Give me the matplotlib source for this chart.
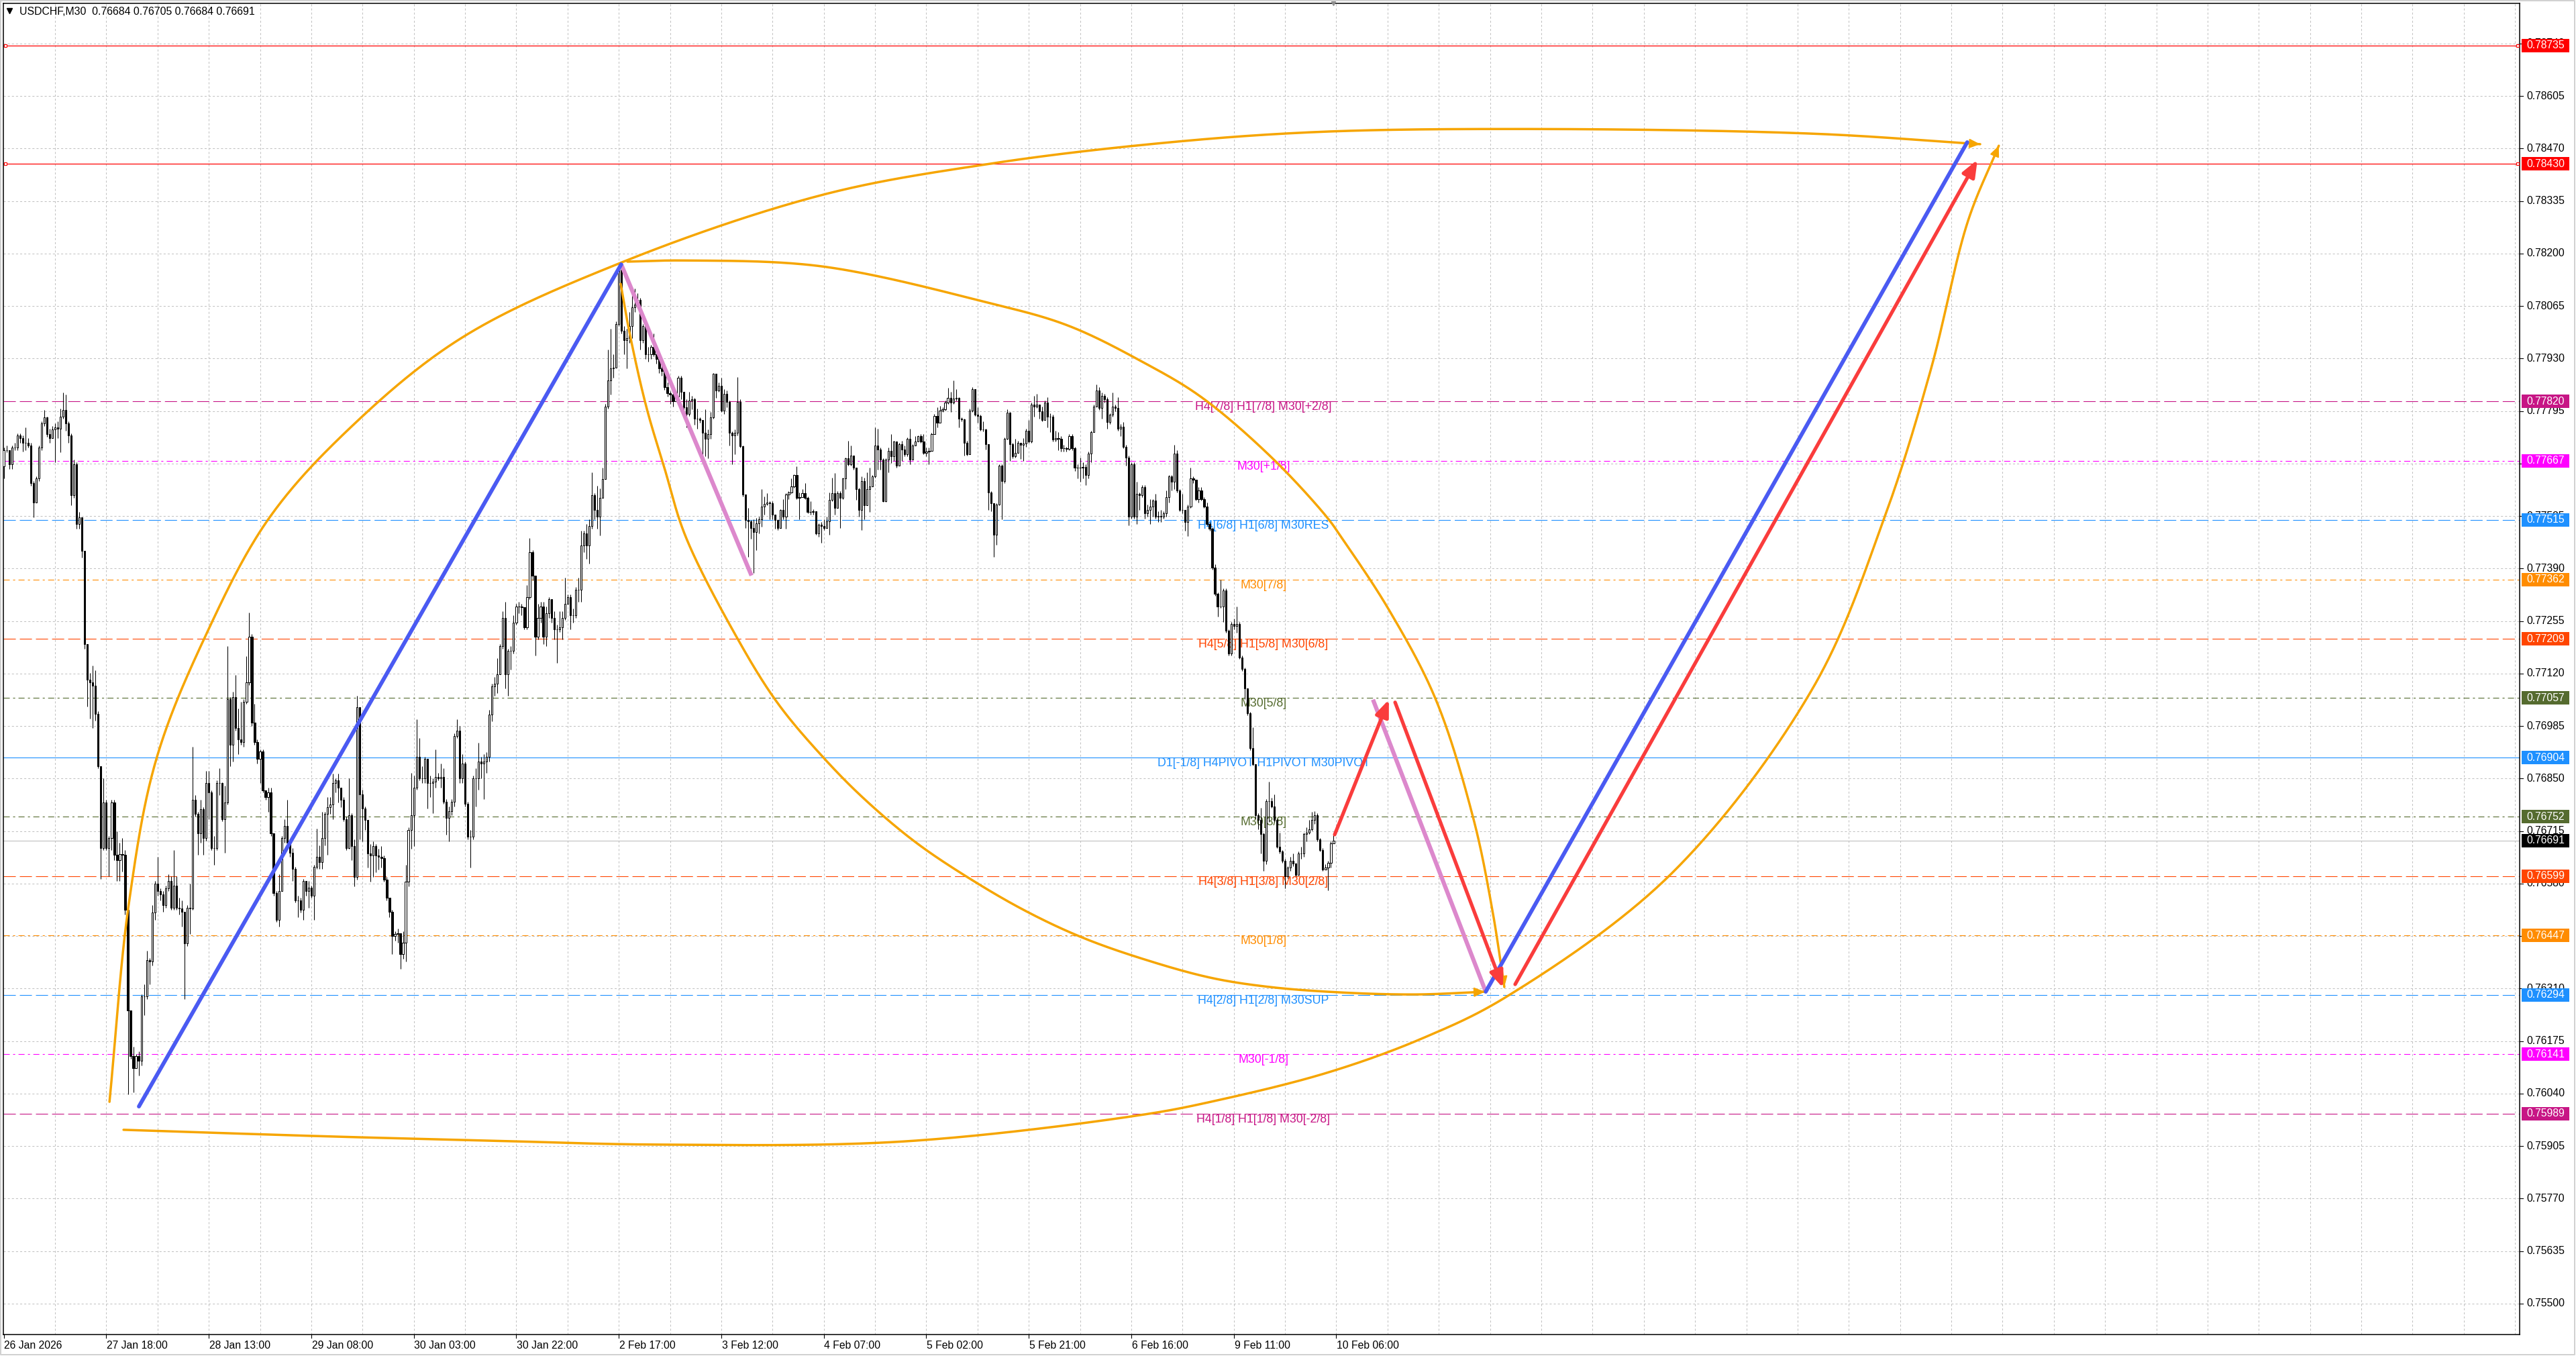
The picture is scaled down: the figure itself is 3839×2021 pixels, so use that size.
import numpy as np
import matplotlib
matplotlib.use("Agg")
import matplotlib.pyplot as plt
from matplotlib.transforms import blended_transform_factory as blend
from matplotlib.patches import Rectangle
from matplotlib.lines import Line2D

plt.rcParams['lines.scale_dashes'] = False
plt.rcParams['font.family'] = ['Liberation Sans', 'DejaVu Sans']

# ------------------------------------------------------------------ data
header_text = "USDCHF,M30  0.76684 0.76705 0.76684 0.76691"

# M30 candles, prices in points (1e-5). open of each bar = previous close
first_open = 77652
close_a = [77695, 77695, 77658, 77701, 77701, 77732, 77726, 77713, 77713, 77707,
           77609, 77559, 77621, 77701, 77763, 77778, 77736, 77726, 77748, 77753,
           77750, 77781, 77797, 77763, 77732, 77578, 77658, 77504, 77522, 77436,
           77196, 77104, 77097, 77088, 77017, 76882, 76672, 76789, 76672, 76697,
           76789, 76654, 76641, 76656, 76654, 76512, 76253, 76136, 76105, 76136,
           76124, 76290, 76290, 76383, 76380, 76506, 76580, 76561, 76553, 76524,
           76568, 76586, 76518, 76574, 76518, 76516, 76508, 76426, 76518, 76516,
           76795, 76759, 76709, 76771, 76697, 76839, 76814, 76672, 76672, 76839,
           76839, 76746, 76789, 77054, 76937, 77060, 76980, 76950, 76943, 77048,
           77097, 77214, 76993, 76943, 76900, 76919, 76820, 76802, 76814, 76709,
           76555, 76487, 76561, 76697, 76728, 76685, 76660, 76617, 76537, 76537,
           76512, 76586, 76561, 76570, 76549, 76623, 76648, 76635, 76697, 76759,
           76777, 76783, 76839, 76845, 76826, 76795, 76746, 76672]
high_a = [77701, 77707, 77677, 77707, 77713, 77738, 77738, 77732, 77753, 77726,
          77713, 77615, 77627, 77707, 77769, 77797, 77781, 77750, 77757, 77763,
          77769, 77802, 77843, 77837, 77769, 77738, 77670, 77664, 77535, 77498,
          77436, 77196, 77122, 77141, 77128, 77023, 76882, 76851, 76795, 76703,
          76795, 76795, 76715, 76685, 76697, 76666, 76512, 76247, 76161, 76142,
          76149, 76296, 76321, 76407, 76389, 76524, 76586, 76648, 76568, 76561,
          76574, 76604, 76598, 76666, 76598, 76543, 76537, 76506, 76524, 76580,
          76931, 76808, 76765, 76795, 76777, 76869, 76869, 76820, 76703, 76845,
          76876, 76841, 76832, 77190, 77060, 77073, 77116, 77030, 77048, 77054,
          77165, 77276, 77221, 77042, 76950, 76925, 76925, 76820, 76826, 76826,
          76709, 76561, 76604, 76703, 76746, 76795, 76678, 76672, 76623, 76549,
          76543, 76592, 76580, 76586, 76574, 76629, 76722, 76678, 76765, 76765,
          76802, 76802, 76863, 76851, 76863, 76826, 76802, 76752]
low_a = [77621, 77689, 77646, 77646, 77695, 77695, 77713, 77691, 77695, 77701,
         77603, 77522, 77559, 77615, 77695, 77757, 77728, 77713, 77732, 77664,
         77726, 77689, 77775, 77744, 77713, 77553, 77572, 77492, 77492, 77418,
         77184, 77036, 77005, 76980, 76999, 76876, 76592, 76666, 76666, 76598,
         76666, 76641, 76586, 76586, 76611, 76500, 76038, 76130, 76044, 76130,
         76087, 76112, 76241, 76284, 76321, 76370, 76487, 76549, 76537, 76508,
         76518, 76561, 76512, 76512, 76512, 76500, 76469, 76284, 76420, 76450,
         76512, 76752, 76654, 76685, 76654, 76691, 76746, 76666, 76629, 76666,
         76808, 76740, 76660, 76783, 76882, 76894, 76974, 76913, 76937, 76931,
         77042, 77091, 76986, 76937, 76888, 76839, 76814, 76795, 76765, 76703,
         76549, 76481, 76469, 76568, 76685, 76678, 76648, 76586, 76531, 76494,
         76506, 76487, 76549, 76518, 76543, 76487, 76617, 76617, 76617, 76678,
         76654, 76759, 76746, 76814, 76789, 76777, 76740, 76666]

close_b = [76755, 76676, 76597, 77033, 76809, 76773, 76743, 76658, 76652, 76676,
           76652, 76648, 76646, 76591, 76543, 76507, 76446, 76450, 76452, 76398,
           76428, 76585, 76718, 76755, 76827, 76906, 76851, 76851, 76900, 76839,
           76839, 76842, 76854, 76851, 76854, 76791, 76749, 76767, 76791, 76960,
           76973, 76851, 76888, 76785, 76700, 76700, 76851, 76851, 76894, 76888,
           76894, 76906, 77015, 77087, 77094, 77118, 77190, 77263, 77118, 77178,
           77178, 77251, 77293, 77293, 77290, 77239, 77317, 77432, 77372, 77215,
           77263, 77293, 77215, 77275, 77311, 77263, 77233, 77233, 77239, 77263,
           77299, 77317, 77269, 77269, 77336, 77336, 77450, 77481, 77450, 77499,
           77578, 77541, 77523, 77571, 77620, 77807, 77874, 77904, 77907, 78019,
           78158, 78001, 77977, 77983, 78013, 78062, 78068, 78080, 77977, 78013,
           77941, 77941, 77959, 77941, 77928, 77904, 77898, 77856, 77841, 77838,
           77820, 77832, 77880, 77844]
high_b = [76851, 76761, 76694, 77063, 77033, 76821, 76779, 76743, 76682, 76688,
          76682, 76670, 76676, 76652, 76597, 76543, 76513, 76458, 76464, 76452,
          76458, 76628, 76724, 76864, 76858, 77003, 76954, 76882, 76906, 76870,
          76858, 76851, 76924, 76864, 76888, 76876, 76797, 76779, 76797, 76966,
          77003, 76985, 76912, 76894, 76791, 76718, 76858, 76876, 76942, 76906,
          76912, 76918, 77027, 77094, 77112, 77160, 77196, 77281, 77305, 77184,
          77190, 77269, 77299, 77305, 77299, 77287, 77348, 77469, 77438, 77372,
          77299, 77305, 77305, 77293, 77317, 77311, 77281, 77245, 77281, 77281,
          77366, 77323, 77323, 77287, 77342, 77366, 77487, 77487, 77505, 77517,
          77638, 77584, 77602, 77596, 77650, 77814, 77953, 78007, 77941, 78025,
          78177, 78170, 78013, 78007, 78049, 78098, 78110, 78098, 78086, 78019,
          78013, 77959, 77965, 77995, 77947, 77935, 77916, 77898, 77868, 77846,
          77844, 77844, 77886, 77886]
low_b = [76670, 76640, 76573, 76591, 76694, 76688, 76718, 76622, 76585, 76597,
         76609, 76616, 76622, 76585, 76537, 76494, 76398, 76434, 76428, 76361,
         76386, 76380, 76573, 76670, 76676, 76821, 76845, 76839, 76839, 76773,
         76803, 76761, 76827, 76845, 76827, 76785, 76706, 76688, 76755, 76779,
         76954, 76839, 76839, 76779, 76694, 76622, 76694, 76779, 76821, 76851,
         76797, 76864, 76894, 76997, 77063, 77069, 77118, 77184, 77081, 77063,
         77130, 77172, 77245, 77275, 77269, 77233, 77233, 77311, 77360, 77166,
         77208, 77251, 77196, 77190, 77263, 77251, 77208, 77148, 77227, 77208,
         77257, 77299, 77233, 77251, 77263, 77305, 77305, 77432, 77414, 77402,
         77493, 77517, 77493, 77475, 77578, 77620, 77801, 77838, 77880, 77953,
         78013, 77995, 77941, 77904, 77971, 77983, 78049, 78062, 77953, 77971,
         77928, 77922, 77928, 77935, 77916, 77892, 77886, 77850, 77832, 77814,
         77807, 77820, 77832, 77826]

close_c = [77805, 77788, 77822, 77825, 77776, 77776, 77772, 77739, 77724, 77735,
           77779, 77890, 77848, 77860, 77796, 77839, 77819, 77739, 77733, 77739,
           77819, 77704, 77581, 77515, 77511, 77494, 77483, 77506, 77517, 77549,
           77557, 77559, 77558, 77529, 77515, 77494, 77540, 77523, 77581, 77586,
           77601, 77630, 77572, 77574, 77584, 77572, 77535, 77536, 77538, 77480,
           77503, 77500, 77494, 77512, 77566, 77584, 77546, 77584, 77572, 77621,
           77673, 77658, 77681, 77650, 77595, 77540, 77615, 77552, 77595, 77601,
           77627, 77707, 77696, 77670, 77563, 77670, 77693, 77678, 77716, 77655,
           77710, 77696, 77684, 77724, 77670, 77707, 77716, 77730, 77716, 77687,
           77690, 77693, 77736, 77782, 77765, 77796, 77799, 77816, 77828, 77816,
           77827, 77828, 77776, 77773, 77713, 77684, 77796, 77851, 77785, 77782,
           77747, 77747, 77710, 77586, 77558, 77477, 77555, 77655, 77615, 77724,
           77791, 77710, 77678, 77687, 77713]
high_c = [77845, 77825, 77845, 77834, 77828, 77802, 77779, 77770, 77799, 77747,
          77793, 77892, 77891, 77868, 77880, 77851, 77848, 77822, 77742, 77747,
          77883, 77825, 77707, 77581, 77546, 77515, 77517, 77520, 77523, 77595,
          77575, 77584, 77563, 77563, 77526, 77517, 77543, 77569, 77584, 77589,
          77621, 77632, 77653, 77586, 77595, 77609, 77575, 77563, 77543, 77538,
          77506, 77509, 77517, 77523, 77586, 77624, 77635, 77589, 77589, 77624,
          77676, 77719, 77707, 77678, 77647, 77598, 77627, 77624, 77638, 77650,
          77630, 77753, 77750, 77701, 77673, 77673, 77701, 77736, 77719, 77713,
          77713, 77719, 77707, 77727, 77750, 77710, 77730, 77733, 77736, 77736,
          77701, 77701, 77739, 77788, 77805, 77808, 77805, 77822, 77854, 77845,
          77874, 77851, 77831, 77779, 77776, 77719, 77802, 77857, 77851, 77805,
          77785, 77768, 77750, 77710, 77589, 77552, 77558, 77658, 77658, 77727,
          77799, 77793, 77713, 77724, 77719]
low_c = [77785, 77753, 77782, 77799, 77759, 77750, 77765, 77681, 77678, 77673,
         77724, 77776, 77828, 77845, 77793, 77788, 77805, 77707, 77658, 77684,
         77733, 77701, 77575, 77494, 77420, 77466, 77379, 77437, 77480, 77497,
         77529, 77552, 77517, 77517, 77492, 77489, 77515, 77517, 77492, 77569,
         77584, 77598, 77569, 77517, 77575, 77569, 77532, 77529, 77529, 77477,
         77471, 77457, 77489, 77500, 77477, 77563, 77529, 77546, 77494, 77569,
         77595, 77655, 77655, 77644, 77566, 77523, 77489, 77517, 77552, 77535,
         77615, 77624, 77644, 77644, 77561, 77561, 77638, 77661, 77667, 77650,
         77655, 77667, 77678, 77678, 77658, 77681, 77713, 77719, 77713, 77684,
         77678, 77658, 77696, 77736, 77753, 77768, 77793, 77796, 77814, 77793,
         77814, 77822, 77753, 77768, 77681, 77681, 77683, 77793, 77782, 77765,
         77745, 77742, 77696, 77540, 77538, 77420, 77451, 77552, 77517, 77609,
         77722, 77667, 77673, 77676, 77687]

close_d = [77708, 77711, 77744, 77717, 77812, 77807, 77812, 77794, 77771, 77816,
           77780, 77780, 77722, 77726, 77723, 77699, 77699, 77698, 77731, 77699,
           77649, 77649, 77649, 77651, 77631, 77685, 77740, 77807, 77848, 77803,
           77834, 77825, 77767, 77785, 77807, 77803, 77749, 77755, 77703, 77676,
           77523, 77658, 77523, 77582, 77579, 77600, 77532, 77541, 77550, 77564,
           77523, 77525, 77523, 77532, 77573, 77627, 77613, 77685, 77591, 77541,
           77541, 77510, 77550, 77622, 77618, 77568, 77591, 77568, 77550, 77505,
           77492, 77392, 77325, 77293, 77293, 77334, 77230, 77171, 77248, 77243,
           77248, 77162, 77131, 77081, 77018, 76928, 76887, 76756, 76743, 76707,
           76639, 76792, 76792, 76779, 76743, 76675, 76662, 76639, 76598, 76621,
           76639, 76632, 76603, 76657, 76657, 76707, 76711, 76720, 76743, 76756,
           76693, 76666, 76616, 76621, 76634, 76684, 76691]
high_d = [77714, 77726, 77749, 77771, 77816, 77834, 77839, 77812, 77807, 77821,
          77830, 77789, 77785, 77744, 77740, 77731, 77708, 77703, 77735, 77735,
          77703, 77658, 77676, 77663, 77658, 77690, 77744, 77812, 77864, 77857,
          77843, 77839, 77830, 77789, 77843, 77812, 77830, 77762, 77767, 77708,
          77681, 77663, 77663, 77613, 77586, 77604, 77604, 77555, 77568, 77568,
          77582, 77537, 77541, 77537, 77591, 77631, 77631, 77708, 77694, 77595,
          77582, 77541, 77555, 77649, 77627, 77613, 77600, 77600, 77573, 77559,
          77510, 77496, 77401, 77329, 77361, 77338, 77338, 77234, 77252, 77261,
          77293, 77252, 77167, 77135, 77081, 77022, 76982, 76887, 76761, 76774,
          76711, 76797, 76842, 76801, 76810, 76747, 76711, 76666, 76644, 76625,
          76648, 76657, 76634, 76662, 76675, 76711, 76725, 76743, 76765, 76767,
          76761, 76698, 76671, 76630, 76639, 76689, 76705]
low_d = [77672, 77667, 77703, 77713, 77714, 77780, 77803, 77776, 77768, 77794,
         77753, 77740, 77717, 77717, 77694, 77690, 77690, 77690, 77694, 77694,
         77640, 77622, 77613, 77622, 77604, 77622, 77663, 77740, 77807, 77798,
         77776, 77816, 77749, 77762, 77780, 77794, 77744, 77731, 77699, 77654,
         77501, 77519, 77519, 77505, 77541, 77573, 77519, 77523, 77505, 77523,
         77519, 77510, 77510, 77519, 77523, 77559, 77591, 77595, 77586, 77537,
         77532, 77487, 77473, 77546, 77609, 77564, 77559, 77564, 77546, 77501,
         77487, 77388, 77320, 77266, 77289, 77252, 77225, 77167, 77167, 77234,
         77225, 77158, 77126, 77054, 77013, 76923, 76883, 76747, 76720, 76657,
         76612, 76630, 76738, 76774, 76738, 76671, 76657, 76634, 76567, 76594,
         76612, 76625, 76598, 76603, 76644, 76648, 76689, 76707, 76716, 76734,
         76689, 76662, 76612, 76616, 76562, 76621, 76684]

time_labels = ["26 Jan 2026", "27 Jan 18:00", "28 Jan 13:00", "29 Jan 08:00",
               "30 Jan 03:00", "30 Jan 22:00", "2 Feb 17:00", "3 Feb 12:00",
               "4 Feb 07:00", "5 Feb 02:00", "5 Feb 21:00", "6 Feb 16:00",
               "9 Feb 11:00", "10 Feb 06:00"]
time_label_bars = [0, 38, 76, 114, 152, 190, 228, 266, 304, 342, 380, 418, 456, 494]
grid_bars = list(range(19, 933, 19))

price_ticks = [0.75500, 0.75635, 0.75770, 0.75905, 0.76040, 0.76175, 0.76310,
               0.76445, 0.76580, 0.76715, 0.76850, 0.76985, 0.77120, 0.77255,
               0.77390, 0.77525, 0.77660, 0.77795, 0.77930, 0.78065, 0.78200,
               0.78335, 0.78470, 0.78605, 0.78740]

red_levels = [0.78735, 0.78430]
current_price = 0.76691

MVR, MAG, DOD, DOR, ORR, OLV = '#C71585', '#FF00FF', '#1E90FF', '#FF8C00', '#FF4500', '#556B2F'
mm_levels = [0.77820, 0.77667, 0.77515, 0.77362, 0.77209, 0.77057, 0.76904,
             0.76752, 0.76599, 0.76447, 0.76294, 0.76141, 0.75989]
mm_names = ["H4[7/8] H1[7/8] M30[+2/8]", "M30[+1/8]", "H4[6/8] H1[6/8] M30RES",
            "M30[7/8]", "H4[5/8] H1[5/8] M30[6/8]", "M30[5/8]",
            "D1[-1/8] H4PIVOT H1PIVOT M30PIVOT", "M30[3/8]",
            "H4[3/8] H1[3/8] M30[2/8]", "M30[1/8]", "H4[2/8] H1[2/8] M30SUP",
            "M30[-1/8]", "H4[1/8] H1[1/8] M30[-2/8]"]
mm_colors = [MVR, MAG, DOD, DOR, ORR, OLV, DOD, OLV, ORR, DOR, DOD, MAG, MVR]
mm_styles = ['dash', 'dashdot', 'dash', 'dashdot', 'dash', 'dashdot', 'solid',
             'dashdot', 'dash', 'dashdot', 'dash', 'dashdot', 'dash']

box_values = [0.78735, 0.78430, 0.77820, 0.77667, 0.77515, 0.77362, 0.77209, 0.77057,
              0.76904, 0.76752, 0.76691, 0.76599, 0.76447, 0.76294, 0.76141, 0.75989]
box_colors = ['#FF0000', '#FF0000', MVR, MAG, DOD, DOR, ORR, OLV,
              DOD, OLV, '#000000', ORR, DOR, DOD, MAG, MVR]

# drawn objects (bar index, price)
blue_1 = ([50.1, 228.9], [0.76007, 0.78172])
pink_1 = ([228.9, 277.2], [0.78172, 0.77372])
red_1 = ([493.4, 513.5], [0.76706, 0.77053])
pink_2 = ([507.6, 549.4], [0.77053, 0.76302])
red_2 = ([515.8, 555.8], [0.77046, 0.76312])
blue_2 = ([549.4, 727.9], [0.76302, 0.78486])
red_3 = ([560.3, 731.7], [0.76321, 0.78441])

arc_a = ([39.2, 46.4, 56.6, 75.0, 98.1, 128.0, 169.5, 228.7, 303.1, 364.0, 425.0,
          485.7, 565.0, 670.7, 732.7],
         [0.76019, 0.76530, 0.76901, 0.77220, 0.77517, 0.77749, 0.77982, 0.78176,
          0.78350, 0.78429, 0.78481, 0.78512, 0.78520, 0.78508, 0.78481])
arc_b = ([231.2, 252.3, 303.1, 364.0, 394.4, 422.5, 443.9, 469.8, 490.4, 496.1,
          513.5, 530.9, 544.9, 551.8, 556.3],
         [0.78179, 0.78182, 0.78167, 0.78075, 0.78015, 0.77920, 0.77831, 0.77677,
          0.77523, 0.77468, 0.77284, 0.77053, 0.76745, 0.76514, 0.76314])
arc_c = ([228.7, 232.2, 238.2, 244.9, 252.8, 272.0, 286.9, 303.6, 318.8, 337.9,
          358.3, 379.0, 399.6, 422.0, 447.4, 469.5, 496.1, 523.5, 549.1],
         [0.78122, 0.77989, 0.77806, 0.77649, 0.77472, 0.77210, 0.77044, 0.76906,
          0.76799, 0.76687, 0.76592, 0.76509, 0.76442, 0.76387, 0.76338, 0.76314,
          0.76300, 0.76295, 0.76302])
arc_d = ([44.4, 120.5, 181.2, 242.1, 333.4, 421.5, 450.1, 491.2, 526.2, 557.3,
          618.3, 670.7, 696.9, 714.3, 728.2, 739.6],
         [0.75947, 0.75930, 0.75919, 0.75909, 0.75917, 0.75985, 0.76023, 0.76095,
          0.76183, 0.76290, 0.76606, 0.77083, 0.77515, 0.77899, 0.78284, 0.78477])

# ------------------------------------------------------------------ layout
FW, FH = 3839, 2021
AX_L, AX_R, AX_T, AX_B = 5, 3755, 5, 1989
BAR0_X, BAR_DX = 5.6, 4.02
REF_P, REF_Y, PX_PER_UNIT = 0.78605, 143.0, 57971.0

def fx(px):
    return px / FW

def fy(py):
    return 1.0 - py / FH

fig = plt.figure(figsize=(FW / 100, FH / 100), dpi=100)
fig.patch.set_facecolor('white')
ax = fig.add_axes([fx(AX_L), fy(AX_B), (AX_R - AX_L) / FW, (AX_B - AX_T) / FH])
xlim = ((AX_L - BAR0_X) / BAR_DX, (AX_R - BAR0_X) / BAR_DX)
ylim = (REF_P - (AX_B - REF_Y) / PX_PER_UNIT, REF_P + (REF_Y - AX_T) / PX_PER_UNIT)
ax.set_xlim(*xlim)
ax.set_ylim(*ylim)
ax.set_xticks([])
ax.set_yticks([])
for s in ax.spines.values():
    s.set_linewidth(1.1)
    s.set_color('black')

GRID = '#c0c0c0'
for p in price_ticks:
    ax.axhline(p, color=GRID, lw=0.72, dashes=(2.2, 2.2), zorder=0.5)
for b in grid_bars:
    ax.axvline(b, color=GRID, lw=0.72, dashes=(2.2, 2.2), zorder=0.5)

style_map = {'dash': (0, (13.0, 4.3)), 'dashdot': (0, (6.5, 3.6, 2.2, 3.6)), 'solid': '-'}
for p, c, st in zip(mm_levels, mm_colors, mm_styles):
    ax.axhline(p, color=c, lw=0.8, linestyle=style_map[st], zorder=1)
for p in red_levels:
    ax.axhline(p, color='#FF0000', lw=0.9, zorder=1)
    ax.plot([xlim[0] + 0.7, xlim[1] - 0.8], [p, p], 's', ms=3.3, mfc='white',
            mec='#FF0000', mew=0.8, clip_on=False, zorder=6)
ax.axhline(current_price, color='#c0c0c0', lw=0.8, zorder=1)

for p, name, c in zip(mm_levels, mm_names, mm_colors):
    ax.text(467.0, p, name, color=c, fontsize=12.8, ha='center', va='top', zorder=2)

# candles
closes = np.array(close_a + close_b + close_c + close_d, dtype=float) / 1e5
highs = np.array(high_a + high_b + high_c + high_d, dtype=float) / 1e5
lows = np.array(low_a + low_b + low_c + low_d, dtype=float) / 1e5
n = min(len(closes), len(highs), len(lows))
closes, highs, lows = closes[:n], highs[:n], lows[:n]
opens = np.concatenate([[first_open / 1e5], closes[:-1]])
highs = np.maximum(highs, np.maximum(opens, closes))
lows = np.minimum(lows, np.minimum(opens, closes))
xb = np.arange(n)
ax.vlines(xb, lows, highs, color='black', lw=0.75, zorder=3)
bull = closes >= opens
ax.bar(xb[bull], closes[bull] - opens[bull], bottom=opens[bull], width=0.55,
       facecolor='white', edgecolor='black', linewidth=0.75, zorder=3.2)
ax.bar(xb[~bull], closes[~bull] - opens[~bull], bottom=opens[~bull], width=0.55,
       facecolor='black', edgecolor='black', linewidth=0.75, zorder=3.2)

# drawn objects
ORANGE, BLUE, RED, PINK = '#f6a500', '#4a5af2', '#fa3c3c', '#dc88cc'

def smooth(points, m=40):
    pts = ax.transData.transform(np.column_stack(points))
    P = np.vstack([2 * pts[0] - pts[1], pts, 2 * pts[-1] - pts[-2]])
    out = []
    for i in range(1, len(P) - 2):
        p0, p1, p2, p3 = P[i - 1], P[i], P[i + 1], P[i + 2]
        t0 = 0.0
        t1 = t0 + np.linalg.norm(p1 - p0) ** 0.5
        t2 = t1 + np.linalg.norm(p2 - p1) ** 0.5
        t3 = t2 + np.linalg.norm(p3 - p2) ** 0.5
        t = np.linspace(t1, t2, m)[:, None]
        A1 = (t1 - t) / (t1 - t0) * p0 + (t - t0) / (t1 - t0) * p1
        A2 = (t2 - t) / (t2 - t1) * p1 + (t - t1) / (t2 - t1) * p2
        A3 = (t3 - t) / (t3 - t2) * p2 + (t - t2) / (t3 - t2) * p3
        B1 = (t2 - t) / (t2 - t0) * A1 + (t - t0) / (t2 - t0) * A2
        B2 = (t3 - t) / (t3 - t1) * A2 + (t - t1) / (t3 - t1) * A3
        C = (t2 - t) / (t2 - t1) * B1 + (t - t1) / (t2 - t1) * B2
        out.append(C if i == 1 else C[1:])
    return ax.transData.inverted().transform(np.vstack(out))

for arc in (arc_a, arc_b, arc_c, arc_d):
    s = smooth(arc)
    ax.plot(s[:, 0], s[:, 1], color=ORANGE, lw=2.5, solid_capstyle='round', zorder=4.1)
    ax.annotate('', xy=(s[-1, 0], s[-1, 1]), xytext=(s[-4, 0], s[-4, 1]),
                arrowprops=dict(arrowstyle='-|>,head_length=0.8,head_width=0.35',
                                mutation_scale=12, color=ORANGE, lw=1.5,
                                shrinkA=0, shrinkB=0), zorder=4.2)

for seg in (pink_1, pink_2):
    ax.plot(*seg, color=PINK, lw=4.5, solid_capstyle='butt', zorder=4.0)
for seg in (blue_1, blue_2):
    ax.plot(*seg, color=BLUE, lw=4.2, solid_capstyle='round', zorder=4.3)
for seg in (red_1, red_2, red_3):
    ax.annotate('', xy=(seg[0][1], seg[1][1]), xytext=(seg[0][0], seg[1][0]),
                arrowprops=dict(arrowstyle='-|>,head_length=0.75,head_width=0.3',
                                mutation_scale=20, color=RED, lw=3.8,
                                shrinkA=0, shrinkB=0), zorder=4.4)

# right price scale
tr_r = blend(fig.transFigure, ax.transData)
for p in price_ticks:
    if ylim[0] <= p <= ylim[1]:
        ax.text(fx(3765), p, f"{p:.5f}", transform=tr_r, ha='left', va='center',
                fontsize=11.3, color='black', clip_on=False, zorder=9)
        ax.add_line(Line2D([fx(AX_R), fx(AX_R + 5)], [p, p], transform=tr_r,
                           color='black', lw=0.8, clip_on=False))
hh = 10.0 / PX_PER_UNIT
for p, c in zip(box_values, box_colors):
    ax.add_patch(Rectangle((fx(3758), p - hh), 71.0 / FW, 2 * hh, transform=tr_r,
                           facecolor=c, edgecolor='none', clip_on=False, zorder=10))
    ax.text(fx(3765), p, f"{p:.5f}", transform=tr_r, ha='left', va='center',
            fontsize=11.3, color='white', clip_on=False, zorder=11)

# time scale
tr_b = blend(ax.transData, fig.transFigure)
for b, lab in zip(time_label_bars, time_labels):
    ax.text(b + 0.2, fy(2005), lab, transform=tr_b, ha='left', va='center',
            fontsize=11.3, color='black', clip_on=False)
    ax.add_line(Line2D([b, b], [fy(AX_B), fy(AX_B + 5)], transform=tr_b,
                       color='black', lw=0.8, clip_on=False))

# header
fig.text(fx(29), fy(17), header_text, fontsize=11.4, ha='left', va='center', color='black')
fig.add_artist(Line2D([fx(14)], [fy(16)], marker='v', ms=6.0, color='black',
                      transform=fig.transFigure))
ax.plot([493], [ylim[1]], marker='v', ms=4.5, color='#909090', clip_on=False, zorder=12)

# window frame
fig.add_artist(Line2D([fx(1), fx(1), fx(3837), fx(3837), fx(1)],
                      [fy(1), fy(2019), fy(2019), fy(1), fy(1)],
                      transform=fig.transFigure, color='#d0d0d0', lw=1.4))

fig.savefig('out.png', dpi=100, facecolor='white')
